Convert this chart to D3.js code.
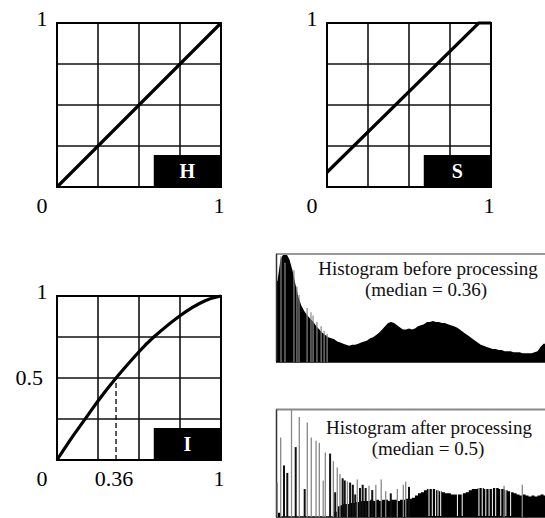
<!DOCTYPE html>
<html>
<head>
<meta charset="utf-8">
<script src="https://cdn.jsdelivr.net/npm/d3@7"></script>
<style>
  body { margin: 0; background: #fff; }
  svg text { font-family: "Liberation Serif", "DejaVu Serif", serif; }
</style>
</head>
<body>
<div id="graph"></div>
<script>
// transfer curves (input -> output)
var hueIn = [0, 1];
var hueOut = [0, 1];
var satIn = [0, 0.925, 1];
var satOut = [0.09, 1, 1];
var intIn = [0, 0.1, 0.2, 0.25, 0.36, 0.5, 0.59, 0.75, 0.9, 1];
var intOut = [0, 0.15, 0.29, 0.36, 0.5, 0.66, 0.75, 0.88, 0.97, 1];
var gridTicks = [0.25, 0.5, 0.75];
var medianIn = 0.36;
var medianOut = 0.5;

// histogram before processing: 90 bins, height as fraction of frame
var beforeHist = [0.75, 0.95, 1.0, 1.0, 0.95, 0.85, 0.72, 0.60, 0.52, 0.47,
	0.43, 0.40, 0.37, 0.33, 0.30, 0.27, 0.25, 0.23, 0.22, 0.21,
	0.19, 0.18, 0.17, 0.16, 0.15, 0.16, 0.16, 0.17, 0.18, 0.19,
	0.20, 0.22, 0.23, 0.25, 0.27, 0.30, 0.33, 0.36, 0.37, 0.36,
	0.34, 0.32, 0.30, 0.30, 0.31, 0.30, 0.31, 0.33, 0.34, 0.35,
	0.37, 0.37, 0.38, 0.37, 0.37, 0.36, 0.36, 0.35, 0.34, 0.33,
	0.32, 0.30, 0.28, 0.26, 0.24, 0.22, 0.20, 0.18, 0.16, 0.15,
	0.14, 0.13, 0.12, 0.12, 0.11, 0.11, 0.10, 0.10, 0.10, 0.09,
	0.09, 0.09, 0.08, 0.08, 0.08, 0.08, 0.09, 0.10, 0.14, 0.17];
var beforeSpikeBin = [1.67, 3.0, 6.0, 7.0, 7.7, 10.4, 11.7, 12.4, 13.7, 15.1, 16.1, 17.1];
var beforeSpikeH = [0.98, 0.92, 0.85, 0.70, 0.62, 0.50, 0.46, 0.43, 0.37, 0.33, 0.29, 0.26];

// histogram after processing: base area + single levels + empty levels
var afterHist = [0.04, 0, 0, 0, 0, 0, 0, 0, 0, 0,
	0, 0, 0, 0, 0, 0, 0, 0, 0, 0.05,
	0.10, 0.11, 0.12, 0.12, 0.13, 0.13, 0.14, 0.14, 0.15, 0.15,
	0.15, 0.16, 0.15, 0.16, 0.15, 0.16, 0.16, 0.15, 0.16, 0.16,
	0.15, 0.16, 0.16, 0.17, 0.17, 0.18, 0.20, 0.22, 0.23, 0.25,
	0.26, 0.26, 0.26, 0.25, 0.24, 0.23, 0.22, 0.22, 0.21, 0.21,
	0.21, 0.21, 0.22, 0.23, 0.25, 0.26, 0.26, 0.27, 0.27, 0.26,
	0.26, 0.26, 0.27, 0.27, 0.26, 0.26, 0.25, 0.24, 0.23, 0.22,
	0.21, 0.20, 0.21, 0.20, 0.19, 0.20, 0.19, 0.20, 0.21, 0.20];
var afterSpikeBin = [0.45, 1.57, 2.68, 3.78, 5.19, 6.59, 7.8, 9.6, 10.47, 11.8,
	13.4, 14.5, 15.8, 16.5, 18.1, 19.2, 19.8, 20.5, 21.4, 22.3,
	23.0, 23.9, 24.8, 25.7, 26.5, 27.2, 28.1, 29.0, 30.0, 31.1,
	32.2, 33.4, 35.2, 36.7, 38.4, 40.6, 42.6, 43.4, 44.5, 76.3, 82.4];
var afterSpikeH = [0.32, 0.74, 0.48, 0.41, 1.0, 0.65, 0.93, 0.26, 0.88, 0.74,
	0.71, 0.69, 0.34, 0.60, 0.59, 0.52, 0.23, 0.46, 0.40, 0.36,
	0.34, 0.33, 0.32, 0.30, 0.21, 0.35, 0.27, 0.30, 0.27, 0.29,
	0.25, 0.30, 0.35, 0.24, 0.22, 0.26, 0.30, 0.33, 0.28, 0.29, 0.30];
var afterSpikeDark = [0, 0, 1, 1, 0, 1, 0, 1, 0, 0,
	0, 0, 0, 0, 1, 0, 1, 0, 0, 1,
	1, 0, 1, 1, 1, 0, 1, 1, 1, 0,
	1, 0, 0, 0, 1, 0, 0, 0, 1, 0, 0];
var afterGapBin = [51.2, 52.3, 53.4, 54.2, 55.1, 60.7, 62.3, 67.9, 69.0, 70.2,
	71.3, 72.4, 73.5, 75.2, 76.9, 78.5];

var w = 545, h = 518;
var size = 164;

var svg = d3.select("#graph")
	.append("svg")
	.attr("width", w)
	.attr("height", h);

// tick labels: [text, x value, y value]
var hsTicks = [["1", 0, 1], ["0", 0, 0], ["1", 1, 0]];
var iTicks = [["1", 0, 1], ["0.5", 0, 0.5], ["0", 0, 0], ["0.36", medianIn, 0], ["1", 1, 0]];

drawPanel(57, 23, hueIn, hueOut, "H", hsTicks, null, d3.curveLinear);
drawPanel(327, 23, satIn, satOut, "S", hsTicks, null, d3.curveLinear);
drawPanel(57, 296, intIn, intOut, "I", iTicks, medianIn, d3.curveNatural);

function drawPanel(x0, y0, xs, ys, label, ticks, median, curve) {
	var xScale = d3.scaleLinear().domain([0, 1]).range([x0, x0 + size]);
	var yScale = d3.scaleLinear().domain([0, 1]).range([y0 + size, y0]);
	var g = svg.append("g");

	g.selectAll("line.vgrid")
		.data(gridTicks)
		.enter().append("line")
		.attr("x1", function (d) { return xScale(d); })
		.attr("x2", function (d) { return xScale(d); })
		.attr("y1", yScale(0))
		.attr("y2", yScale(1))
		.attr("stroke", "#111")
		.attr("stroke-width", 1.6);

	g.selectAll("line.hgrid")
		.data(gridTicks)
		.enter().append("line")
		.attr("y1", function (d) { return yScale(d); })
		.attr("y2", function (d) { return yScale(d); })
		.attr("x1", xScale(0))
		.attr("x2", xScale(1))
		.attr("stroke", "#111")
		.attr("stroke-width", 1.6);

	g.append("rect")
		.attr("x", xScale(0))
		.attr("y", yScale(1))
		.attr("width", size)
		.attr("height", size)
		.attr("fill", "none")
		.attr("stroke", "#000")
		.attr("stroke-width", 2);

	// label box
	g.append("rect")
		.attr("x", xScale(0.59))
		.attr("y", yScale(0.195))
		.attr("width", xScale(1) - xScale(0.59))
		.attr("height", yScale(0) - yScale(0.195))
		.attr("fill", "#000");
	g.append("text")
		.attr("x", xScale(0.795))
		.attr("y", yScale(0.0975) + 7)
		.attr("text-anchor", "middle")
		.attr("font-weight", "bold")
		.attr("font-size", 20)
		.attr("fill", "#fff")
		.text(label);

	if (median != null) {
		var mIdx = xs.indexOf(median);
		g.append("line")
			.attr("x1", xScale(median))
			.attr("x2", xScale(median))
			.attr("y1", yScale(0))
			.attr("y2", yScale(ys[mIdx]))
			.attr("stroke", "#000")
			.attr("stroke-width", 1.3)
			.attr("stroke-dasharray", "5,3");
	}

	var line = d3.line()
		.x(function (d) { return xScale(d[0]); })
		.y(function (d) { return yScale(d[1]); })
		.curve(curve);

	g.append("path")
		.datum(d3.zip(xs, ys))
		.attr("fill", "none")
		.attr("stroke", "#000")
		.attr("stroke-width", 3.2)
		.attr("d", line);

	g.selectAll("text.tick")
		.data(ticks)
		.enter().append("text")
		.attr("x", function (d) {
			if (d[1] == 0 && d[2] > 0 && d[2] < 1) return xScale(0) - 14;
			if (d[1] == 0) return xScale(0) - 15;
			if (d[1] == 1) return xScale(1) - 2;
			return xScale(d[1]) - 2;
		})
		.attr("y", function (d) { return d[2] == 0 ? yScale(0) + 26 : yScale(d[2]) + (d[2] == 1 ? 3 : 7); })
		.attr("text-anchor", function (d) { return d[1] == 0 && d[2] > 0 && d[2] < 1 ? "end" : "middle"; })
		.attr("font-size", 22)
		.attr("fill", "#000")
		.text(function (d) { return d[0]; });
}

// histograms
var hx = d3.scaleLinear().domain([0, 90]).range([276, 545]);

function drawHist(top, bottom, values, frameColor, curve) {
	var hy = d3.scaleLinear().domain([0, 1]).range([bottom, top]);
	var g = svg.append("g");
	var pts = values.map(function (v, i) { return [i + 0.5, v]; });
	pts.unshift([0, values[0]]);
	pts.push([90, values[values.length - 1]]);
	var area = d3.area()
		.x(function (d) { return hx(d[0]); })
		.y0(hy(0))
		.y1(function (d) { return hy(d[1]); })
		.curve(curve);
	g.append("path")
		.datum(pts)
		.attr("fill", "#000")
		.attr("d", area);
	g.append("line")
		.attr("x1", hx(0)).attr("x2", w)
		.attr("y1", top).attr("y2", top)
		.attr("stroke", frameColor).attr("stroke-width", 2);
	g.append("line")
		.attr("x1", hx(0) + 0.5).attr("x2", hx(0) + 0.5)
		.attr("y1", top).attr("y2", bottom)
		.attr("stroke", "#333").attr("stroke-width", 1.5);
	g.append("line")
		.attr("x1", hx(0)).attr("x2", w)
		.attr("y1", bottom).attr("y2", bottom)
		.attr("stroke", "#000").attr("stroke-width", 1.5);
	return {g: g, hy: hy};
}

var before = drawHist(254, 362, beforeHist, "#999", d3.curveLinear);
before.g.selectAll("line.spike")
	.data(d3.zip(beforeSpikeBin, beforeSpikeH))
	.enter().append("line")
	.attr("x1", function (d) { return hx(d[0]); })
	.attr("x2", function (d) { return hx(d[0]); })
	.attr("y1", before.hy(0))
	.attr("y2", function (d) { return before.hy(d[1]); })
	.attr("stroke", "#888")
	.attr("stroke-width", 1.2);

var after = drawHist(409.5, 517, afterHist, "#888", d3.curveStepAfter);
after.g.selectAll("line.gap")
	.data(afterGapBin)
	.enter().append("line")
	.attr("x1", function (d) { return hx(d); })
	.attr("x2", function (d) { return hx(d); })
	.attr("y1", after.hy(0) - 1)
	.attr("y2", after.hy(0.3))
	.attr("stroke", "#fff")
	.attr("stroke-width", 1);
after.g.selectAll("line.spike")
	.data(d3.zip(afterSpikeBin, afterSpikeH, afterSpikeDark))
	.enter().append("line")
	.attr("x1", function (d) { return hx(d[0]); })
	.attr("x2", function (d) { return hx(d[0]); })
	.attr("y1", after.hy(0))
	.attr("y2", function (d) { return after.hy(d[1]); })
	.attr("stroke", function (d) { return d[2] ? "#111" : "#888"; })
	.attr("stroke-width", function (d) { return d[2] ? 2 : 1.3; });

var titles = [
	["Histogram before processing", 428, 275],
	["(median = 0.36)", 426, 296],
	["Histogram after processing", 429, 434],
	["(median = 0.5)", 428, 455]
];
svg.selectAll("text.title")
	.data(titles)
	.enter().append("text")
	.attr("x", function (d) { return d[1]; })
	.attr("y", function (d) { return d[2]; })
	.attr("text-anchor", "middle")
	.attr("font-size", 19)
	.attr("fill", "#111")
	.text(function (d) { return d[0]; });
</script>
</body>
</html>
